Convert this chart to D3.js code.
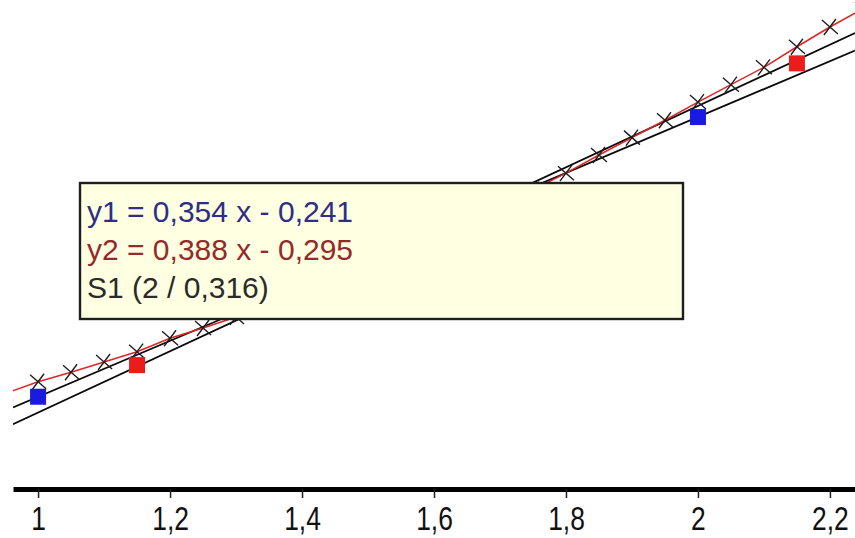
<!DOCTYPE html>
<html>
<head>
    <meta charset="utf-8">
    <title>Regression lines</title>
    <script src="https://d3js.org/d3.v7.min.js"></script>
    <style>
        body { margin: 0; background: #fff; }
        svg { display: block; }
    </style>
</head>
<body>
    <svg id="chart" width="855" height="538"></svg>

    <script>
        // S1 measured points (x marks joined by the red line)
        var s1X = [0.95, 1, 1.05, 1.1, 1.15, 1.2, 1.25, 1.3, 1.35, 1.4, 1.45, 1.5, 1.55,
                   1.6, 1.65, 1.7, 1.75, 1.8, 1.85, 1.9, 1.95, 2, 2.05, 2.1, 2.15, 2.2, 2.25]
        var s1Y = [0.117, 0.132, 0.144, 0.157, 0.170, 0.187, 0.200, 0.214, 0.229, 0.245, 0.262, 0.279, 0.297,
                   0.316, 0.335, 0.355, 0.375, 0.396, 0.419, 0.441, 0.463, 0.486, 0.508, 0.530, 0.556, 0.581, 0.604]

        // points the two fits go through
        var blueX = [1, 2]
        var blueY = [0.113, 0.467]
        var redX = [1.15, 2.15]
        var redY = [0.153, 0.535]

        // fitted lines y = a x + b
        var fitSlope = [0.354, 0.388]
        var fitIntercept = [-0.241, -0.295]

        var tipLines = ["y1 = 0,354 x - 0,241", "y2 = 0,388 x - 0,295", "S1 (2 / 0,316)"]
        var tipColors = ["#2e2e86", "#962a2a", "#2b2b2b"]

        var xTicks = [1, 1.2, 1.4, 1.6, 1.8, 2, 2.2]

        var svg = d3.select("#chart")
        var pLeft = 13, pRight = 855, pTop = 0, pBottom = 486

        var x = d3.scaleLinear([0.962, 2.238], [pLeft, pRight])
        var y = d3.scaleLinear([0, 0.6], [pBottom, 12])

        var comma = d3.formatLocale({decimal: ",", thousands: ".", grouping: [3], currency: ["", ""]})
        var fmt = comma.format("~g")

        svg.append("defs").append("clipPath").attr("id", "plot")
            .append("rect")
            .attr("x", pLeft).attr("y", pTop)
            .attr("width", pRight - pLeft).attr("height", pBottom - pTop)

        var plot = svg.append("g").attr("clip-path", "url(#plot)")

        // fitted lines, black
        plot.selectAll("line.fit")
            .data(fitSlope).enter()
            .append("line")
            .attr("class", "fit")
            .attr("x1", x(x.domain()[0]))
            .attr("y1", (a, i) => y(a * x.domain()[0] + fitIntercept[i]))
            .attr("x2", x(x.domain()[1]))
            .attr("y2", (a, i) => y(a * x.domain()[1] + fitIntercept[i]))
            .attr("stroke", "#0a0a0a")
            .attr("stroke-width", 1.8)

        // S1 joined in red
        var s1 = s1X.map((v, i) => [v, s1Y[i]])
        plot.append("path")
            .datum(s1)
            .attr("d", d3.line().x(d => x(d[0])).y(d => y(d[1])))
            .attr("fill", "none")
            .attr("stroke", "#e02424")
            .attr("stroke-width", 1.5)

        // x marks
        var cross = plot.selectAll("g.cross")
            .data(s1).enter()
            .append("g")
            .attr("class", "cross")
            .attr("transform", d => "translate(" + x(d[0]) + "," + y(d[1]) + ")")
        cross.append("path")
            .attr("d", "M-8,-7L8,7M-6,8L6,-8")
            .attr("stroke", "#1e1e1e")
            .attr("stroke-width", 1.4)
            .attr("fill", "none")

        // squares
        var sq = 16
        plot.selectAll("rect.blue")
            .data(blueX).enter()
            .append("rect")
            .attr("x", d => x(d) - sq / 2)
            .attr("y", (d, i) => y(blueY[i]) - sq / 2)
            .attr("width", sq).attr("height", sq)
            .attr("fill", "#1a1ae0")

        plot.selectAll("rect.red")
            .data(redX).enter()
            .append("rect")
            .attr("x", d => x(d) - sq / 2)
            .attr("y", (d, i) => y(redY[i]) - sq / 2)
            .attr("width", sq).attr("height", sq)
            .attr("fill", "#ec1c1c")

        // x axis
        var axis = svg.append("g")
            .attr("transform", "translate(0," + (pBottom + 3) + ")")
            .call(d3.axisBottom(x).tickValues(xTicks).tickFormat(fmt)
                .tickSize(9).tickSizeOuter(0).tickPadding(9))
        axis.select(".domain").attr("stroke", "#000").attr("stroke-width", 5)
        axis.selectAll(".tick line").attr("stroke", "#222").attr("stroke-width", 1.5)
        axis.selectAll(".tick text")
            .attr("fill", "#111")
            .attr("transform", "scale(0.8,1)")
            .style("font-family", "'Liberation Sans', Arial, sans-serif")
            .style("font-size", "33px")

        // tooltip box
        var tip = svg.append("g")
        tip.append("rect")
            .attr("x", 80).attr("y", 183)
            .attr("width", 603).attr("height", 136)
            .attr("fill", "#ffffe2")
            .attr("stroke", "#1e1e1e")
            .attr("stroke-width", 2.4)
        tip.selectAll("text")
            .data(tipLines).enter()
            .append("text")
            .attr("x", 87)
            .attr("y", (d, i) => 222 + i * 38)
            .attr("fill", (d, i) => tipColors[i])
            .style("font-family", "'Liberation Sans', Arial, sans-serif")
            .style("font-size", "30px")
            .text(d => d)
    </script>
</body>
</html>
